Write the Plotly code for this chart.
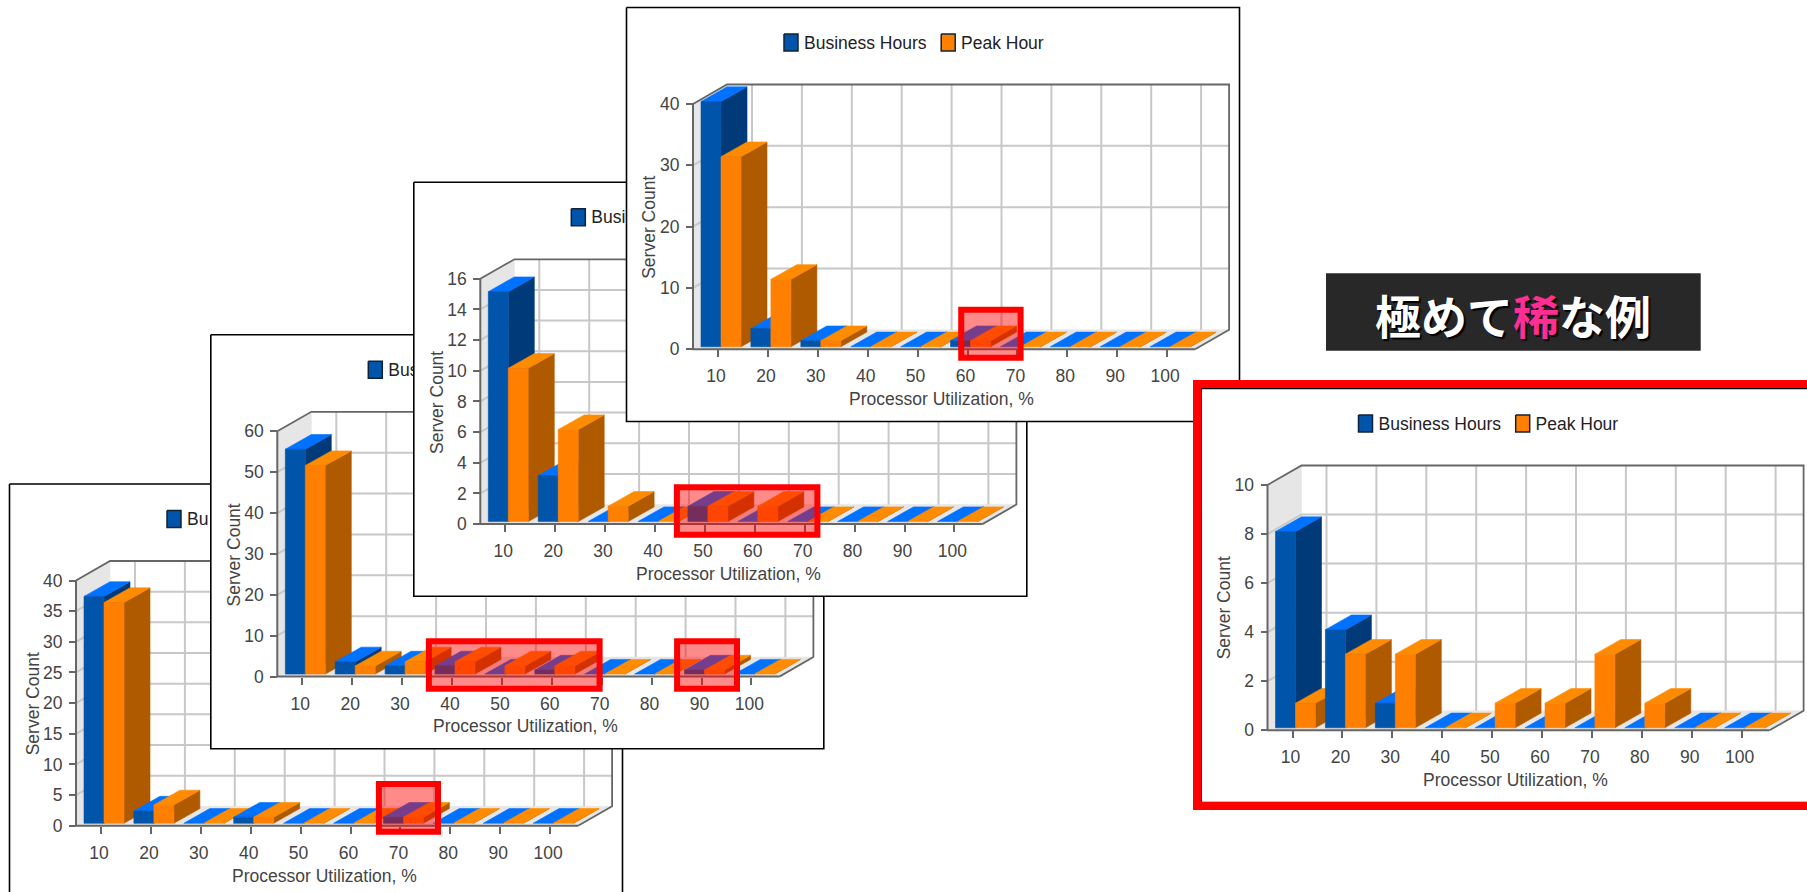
import plotly.graph_objects as go

# Category axis shared by all five server utilisation charts
CATEGORIES = [10, 20, 30, 40, 50, 60, 70, 80, 90, 100]

# Server counts per utilisation bucket
A_BUSINESS = [37, 2, 0, 1, 0, 0, 1, 0, 0, 0]
A_PEAK = [36, 3, 0, 1, 0, 0, 1, 0, 0, 0]
B_BUSINESS = [55, 3, 2, 2, 0, 1, 0, 0, 1, 0]
B_PEAK = [51, 2, 3, 3, 2, 2, 0, 0, 1, 0]
C_BUSINESS = [15, 3, 0, 0, 1, 0, 0, 0, 0, 0]
C_PEAK = [10, 6, 1, 0, 1, 1, 0, 0, 0, 0]
D_BUSINESS = [40, 3, 1, 0, 0, 1, 0, 0, 0, 0]
D_PEAK = [31, 11, 1, 0, 0, 1, 0, 0, 0, 0]
E_BUSINESS = [8, 4, 1, 0, 0, 0, 0, 0, 0, 0]
E_PEAK = [1, 3, 3, 0, 1, 1, 3, 1, 0, 0]

A_YTICKS = [0, 5, 10, 15, 20, 25, 30, 35, 40]
B_YTICKS = [0, 10, 20, 30, 40, 50, 60]
C_YTICKS = [0, 2, 4, 6, 8, 10, 12, 14, 16]
D_YTICKS = [0, 10, 20, 30, 40]
E_YTICKS = [0, 2, 4, 6, 8, 10]

# Legend wording; the stacked cards leave only the start of it in view
FULL_LEGEND = ["Business Hours", "Peak Hour"]
A_LEGEND = ["Bu"]
B_LEGEND = ["Bus"]
C_LEGEND = ["Busi"]
X_TITLE = "Processor Utilization, %"
Y_TITLE = "Server Count"

W, H = 1807, 892
FONT = "Liberation Sans"
FONT_SIZE = 17.5
TEXT = "#444444"
AXIS = "#666666"
GRID = "#c8c8c8"
WALL = "#e6e6e6"
BLUE = ("#0055aa", "#003a78", "#0072ff")
ORANGE = ("#ff8000", "#b05a00", "#ff8c00")

# Layout of one chart card, in pixels from its top-left corner
CARD_W, CARD_H = 613, 414
PAD = 3
AXIS_X, BASE_Y = 66.5, 341.8
FRONT_RIGHT = 568.6
PLOT_H = 245.3
FIRST_TICK, X_STEP = 91.5, 4.99
WALL_DX, WALL_DY = 34, 19.5
BAR_W, BAR_DX, BAR_DY = 20, 26, 14.7
BAR_LIFT, BAR_SHIFT = 2.5, 3

fig = go.Figure()
titles = []


def polygon(xa, ya, xs, ys, fill=None, line=None, width=1):
    """Add one filled face or line run to the given axes."""
    fig.add_trace(go.Scatter(
        x=xs, y=ys, xaxis=xa, yaxis=ya, mode="lines",
        fill="toself" if fill else "none",
        fillcolor=fill,
        line=dict(color=line or fill, width=width if line else 0.6),
        hoverinfo="skip", showlegend=False, cliponaxis=False,
    ))


def add_chart(n, ox, oy, ticks, business, peak, legend):
    xa, ya = f"x{n}", f"y{n}"
    ppy = PLOT_H / ticks[-1]
    to_x = lambda px: CATEGORIES[0] + (px - FIRST_TICK) / X_STEP
    to_y = lambda py: (BASE_Y - py) / ppy
    left = max(ox - PAD, 0)
    top_px = max(oy - PAD, 0)
    right = min(ox + CARD_W + PAD, W)
    bottom = min(oy + CARD_H + PAD, H)

    ax_kw = dict(showgrid=False, zeroline=False, showline=False, ticks="outside",
                 ticklen=7, tickwidth=1.5, tickcolor=AXIS, anchor="free",
                 tickfont=dict(family=FONT, size=FONT_SIZE, color=TEXT))
    fig.update_layout({
        f"xaxis{n}": dict(
            domain=[left / W, right / W], range=[to_x(left - ox), to_x(right - ox)],
            tickmode="array", tickvals=CATEGORIES, ticktext=[str(c) for c in CATEGORIES],
            position=1 - (oy + BASE_Y) / H, ticklabelstandoff=4, ticklabelshift=-2, **ax_kw),
        f"yaxis{n}": dict(
            domain=[1 - bottom / H, 1 - top_px / H], range=[to_y(bottom - oy), to_y(top_px - oy)],
            tickmode="array", tickvals=ticks, ticktext=[str(t) for t in ticks],
            position=(ox + AXIS_X) / W, ticklabelstandoff=3, **ax_kw),
    })

    # Axis titles sit in clear space beside each card's plot
    title_font = dict(family=FONT, size=FONT_SIZE, color=TEXT)
    titles.append(dict(xref="paper", yref="paper", showarrow=False, text=X_TITLE, font=title_font,
                       x=(ox + 314.7) / W, y=1 - (oy + 391.5) / H, xanchor="center", yanchor="middle"))
    titles.append(dict(xref="paper", yref="paper", showarrow=False, text=Y_TITLE, font=title_font,
                       x=(ox + 23) / W, y=1 - (oy + 219.8) / H, textangle=-90,
                       xanchor="center", yanchor="middle"))

    # White card and its thin black edge
    cx = [to_x(0), to_x(CARD_W), to_x(CARD_W), to_x(0), to_x(0)]
    cy = [to_y(0), to_y(0), to_y(CARD_H), to_y(CARD_H), to_y(0)]
    polygon(xa, ya, cx, cy, fill="#ffffff", line="#000000", width=1.6)

    # Legend swatches and labels
    for (name, colour, sx, tx) in zip(legend, (BLUE, ORANGE), (157.5, 314.7), (177.5, 334.5)):
        sw = [to_x(sx), to_x(sx + 14), to_x(sx + 14), to_x(sx), to_x(sx)]
        sh = [to_y(26.5), to_y(26.5), to_y(43.5), to_y(43.5), to_y(26.5)]
        polygon(xa, ya, sw, sh, fill=colour[0], line="#10223a", width=1.5)
        fig.add_trace(go.Scatter(
            x=[to_x(tx)], y=[to_y(36.8)], xaxis=xa, yaxis=ya, mode="text", text=[name],
            textposition="middle right", textfont=dict(family=FONT, size=FONT_SIZE, color="#222222"),
            hoverinfo="skip", showlegend=False, cliponaxis=False))

    # Side wall and floor of the box
    ddx, ddy = WALL_DX / X_STEP, WALL_DY / ppy
    x0, x1 = to_x(AXIS_X), to_x(FRONT_RIGHT)
    top = ticks[-1]
    polygon(xa, ya, [x0, x0 + ddx, x0 + ddx, x0, x0], [0, ddy, top + ddy, top, 0], fill=WALL)
    polygon(xa, ya, [x0, x1, x1 + ddx, x0 + ddx, x0], [0, 0, ddy, ddy, 0], fill=WALL)

    # Rear wall grid, with the tick lines carried across the side wall
    for t in ticks[1:-1]:
        polygon(xa, ya, [x0, x0 + ddx, x1 + ddx], [t, t + ddy, t + ddy], line=GRID, width=2)
    for c in CATEGORIES:
        polygon(xa, ya, [c + ddx, c + ddx], [ddy, top + ddy], line=GRID, width=2)

    # Box outline and front axis lines
    polygon(xa, ya, [x0, x0 + ddx, x1 + ddx, x1 + ddx, x1], [top, top + ddy, top + ddy, ddy, 0],
            line=AXIS, width=1.8)
    polygon(xa, ya, [x0, x0, x1], [top, 0, 0], line=AXIS, width=2)

    # Bars stand slightly above the floor edge; painted left to right so nearer faces cover earlier ones
    bw, bdx, bdy = BAR_W / X_STEP, BAR_DX / X_STEP, BAR_DY / ppy
    lift = BAR_LIFT / ppy
    for c, b, p in zip(CATEGORIES, business, peak):
        mid = c + BAR_SHIFT / X_STEP
        for bar_left, value, colour in ((mid - bw, b, BLUE), (mid, p, ORANGE)):
            r = bar_left + bw
            h = value + lift
            polygon(xa, ya, [r, r + bdx, r + bdx, r, r],
                    [lift, lift + bdy, h + bdy, h, lift], fill=colour[1])
            polygon(xa, ya, [bar_left, r, r + bdx, bar_left + bdx, bar_left],
                    [h, h, h + bdy, h + bdy, h], fill=colour[2])
            if value > 0:
                polygon(xa, ya, [bar_left, r, r, bar_left, bar_left],
                        [lift, lift, h, h, lift], fill=colour[0])


add_chart(1, 9.5, 484, A_YTICKS, A_BUSINESS, A_PEAK, A_LEGEND)
add_chart(2, 210.8, 334.8, B_YTICKS, B_BUSINESS, B_PEAK, B_LEGEND)
add_chart(3, 413.8, 182.3, C_YTICKS, C_BUSINESS, C_PEAK, C_LEGEND)
add_chart(4, 626.5, 7.5, D_YTICKS, D_BUSINESS, D_PEAK, FULL_LEGEND)
add_chart(5, 1201, 388.5, E_YTICKS, E_BUSINESS, E_PEAK, FULL_LEGEND)

# Red callout boxes around the rare buckets: left, top, right, bottom
CALLOUTS = [
    (958.2, 306.7, 1023.6, 360.7),
    (673.9, 484.3, 820.4, 537.7),
    (425.9, 638.3, 602.6, 691.7),
    (674.1, 638.3, 740.0, 691.7),
    (375.9, 781.0, 441.0, 834.7),
]
shapes = []
for l, t, r, b in CALLOUTS:
    shapes.append(dict(type="rect", xref="paper", yref="paper", layer="above",
                       x0=(l + 3) / W, x1=(r - 3) / W, y0=1 - (b - 3) / H, y1=1 - (t + 3) / H,
                       fillcolor="rgba(255,0,0,0.46)", line=dict(color="#ff0000", width=6)))
# Heavy frame around the featured chart, running off the right edge
shapes.append(dict(type="rect", xref="paper", yref="paper", layer="above",
                   x0=1197 / W, x1=1830 / W, y0=1 - 806 / H, y1=1 - 384 / H,
                   line=dict(color="#ff0000", width=8)))
# Dark banner behind the headline
shapes.append(dict(type="rect", xref="paper", yref="paper", layer="below",
                   x0=1326 / W, x1=1700.7 / W, y0=1 - 350.7 / H, y1=1 - 273.3 / H,
                   fillcolor="#282828", line=dict(width=0)))

headline = dict(
    xref="paper", yref="paper", x=1512.5 / W, y=1 - 314 / H, showarrow=False,
    xanchor="center", yanchor="middle",
    text='<b>極めて<span style="color:#ff2e93">稀</span>な例</b>',
    font=dict(family="Noto Sans CJK JP", size=46, color="#ffffff", shadow="2px 2px 1px #000000"),
)

fig.update_layout(
    width=W, height=H, margin=dict(l=0, r=0, t=0, b=0),
    paper_bgcolor="#ffffff", plot_bgcolor="rgba(0,0,0,0)",
    showlegend=False, shapes=shapes, annotations=titles + [headline],
)

fig.write_html("out.html")
